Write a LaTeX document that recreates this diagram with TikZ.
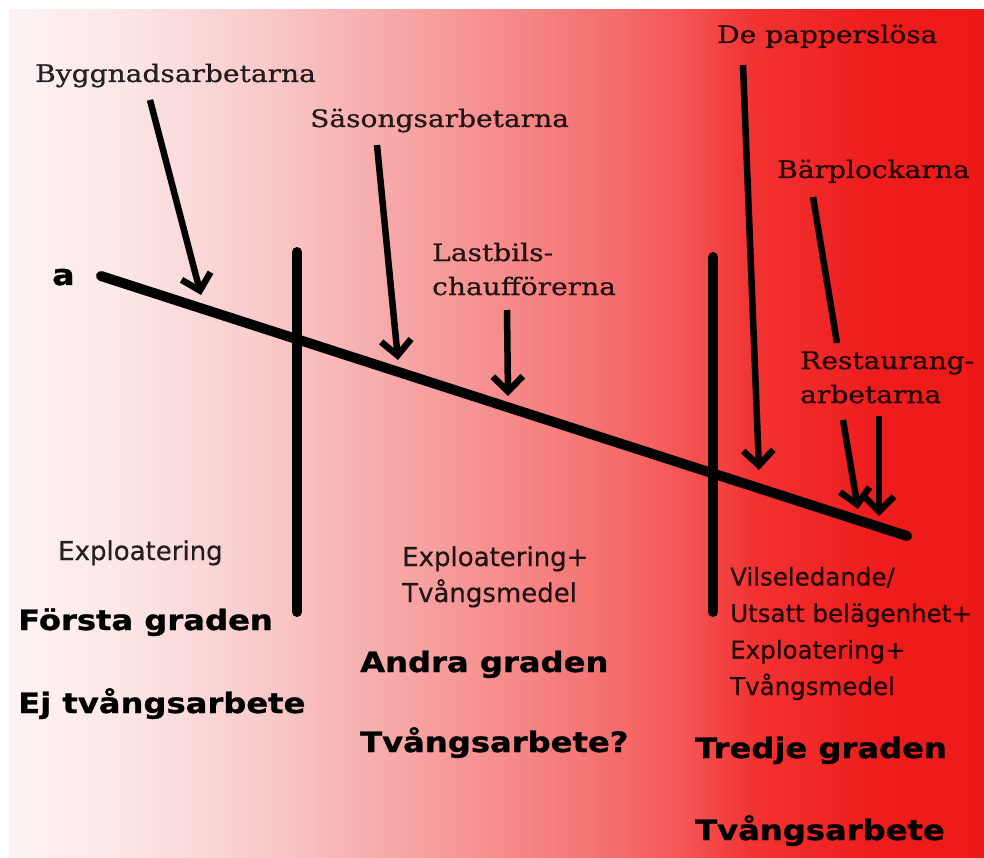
\documentclass[tikz,border=0pt]{standalone}
\usepackage{fontspec}
\setmainfont{DejaVu Serif}[FakeStretch=1.17, FakeBold=0.6]
\newfontfamily\rubrik{DejaVu Sans}[FakeBold=0.4]
\newfontfamily\rubrikbred{DejaVu Sans}[FakeStretch=1.15, FakeBold=1]
\usetikzlibrary{arrows.meta}
\definecolor{bgA}{RGB}{253,243,243}
\definecolor{bgB}{RGB}{252,230,230}
\definecolor{bgC}{RGB}{249,205,205}
\definecolor{bgD}{RGB}{247,172,172}
\definecolor{bgE}{RGB}{246,140,140}
\definecolor{bgF}{RGB}{245,105,105}
\definecolor{bgG}{RGB}{245,82,82}
\definecolor{bgH}{RGB}{242,50,50}
\definecolor{bgI}{RGB}{238,28,28}
\definecolor{bgJ}{RGB}{237,25,25}
\pgfdeclarehorizontalshading{bakgrund}{100bp}{color(0bp)=(bgA); color(25bp)=(bgA);
  color(31bp)=(bgB); color(37.4bp)=(bgC); color(43.9bp)=(bgD); color(50.3bp)=(bgE);
  color(56.7bp)=(bgF); color(59.9bp)=(bgG); color(63.2bp)=(bgH); color(69.6bp)=(bgI);
  color(75bp)=(bgJ); color(100bp)=(bgJ)}
\tikzset{
  etikett/.style={anchor=base west, inner sep=0pt, align=left, font=\fontsize{24}{34}\selectfont, text=black, text opacity=0.85},
  beskr/.style={anchor=base west, inner sep=0pt, align=left, font=\rubrik\fontsize{26}{36}\selectfont, text=black, text opacity=0.85},
  grad/.style={anchor=base west, inner sep=0pt, font=\rubrikbred\bfseries\fontsize{28}{36}\selectfont},
  pil/.style={line width=6.5pt, -{Straight Barb[length=15pt,width=30pt]}},
  linje/.style={line width=10pt, line cap=round},
}

\begin{document}
\begin{tikzpicture}[x=1pt,y=-1pt]
\useasboundingbox (0,0) rectangle (984,858);
\shade[shading=bakgrund] (9,10) rectangle (984,858);

% skalan
\coordinate (start) at (101,276);
\coordinate (slut) at (907,536);
\draw[linje] (start) -- (slut);
\node[grad, font=\rubrikbred\bfseries\fontsize{29}{36}\selectfont] (a) at (52,285) {a};

% gränserna
\coordinate (g1upp) at (297,252);
\coordinate (g1ned) at (297,612);
\coordinate (g2upp) at (713,257);
\coordinate (g2ned) at (713,612);
\draw[linje] (g1upp) -- (g1ned);
\draw[linje] (g2upp) -- (g2ned);

% grupperna (base = sista raden)
\node[etikett] (bygg) at (35,82) {Byggnadsarbetarna};
\node[etikett] (sason) at (310,127) {Säsongsarbetarna};
\node[etikett] (last) at (432,295) {Lastbils-\\chaufförerna};
\node[etikett] (papper) at (717,43) {De papperslösa};
\node[etikett] (bar) at (777,178) {Bärplockarna};
\node[etikett] (rest) at (800,403) {Restaurang-\\arbetarna};

\coordinate (bygg1) at (150,100);  \coordinate (bygg2) at (201,295);
\coordinate (sason1) at (377,145); \coordinate (sason2) at (398,360);
\coordinate (last1) at (507,310);  \coordinate (last2) at (508,396);
\coordinate (papper1) at (743,65); \coordinate (papper2) at (759,470);
\coordinate (bar1) at (813,197);   \coordinate (bar2) at (837,343);
\coordinate (rest1) at (843,420);  \coordinate (rest2) at (858,509);
\coordinate (rest3) at (879,416);  \coordinate (rest4) at (879,516);
\draw[pil] (bygg1) -- (bygg2);
\draw[pil] (sason1) -- (sason2);
\draw[pil] (last1) -- (last2);
\draw[pil] (papper1) -- (papper2);
\draw[line width=6.5pt] (bar1) -- (bar2);
\draw[pil] (rest1) -- (rest2);
\draw[pil] (rest3) -- (rest4);

% graderna
\node[beskr] (expl1) at (58,560) {Exploatering};
\node[grad] (forsta) at (18,630) {Första graden};
\node[grad] (ej) at (18,713) {Ej tvångsarbete};

\node[beskr] (expl2) at (402,602) {Exploatering+\\Tvångsmedel};
\node[grad] (andra) at (360,672) {Andra graden};
\node[grad] (kanske) at (360,752) {Tvångsarbete?};

\node[beskr, font=\rubrik\fontsize{24.5}{36.5}\selectfont] (expl3) at (730,695) {Vilseledande/\\Utsatt belägenhet+\\Exploatering+\\Tvångsmedel};
\node[grad] (tredje) at (695,758) {Tredje graden};
\node[grad] (tvang) at (695,840) {Tvångsarbete};
\end{tikzpicture}
\end{document}
